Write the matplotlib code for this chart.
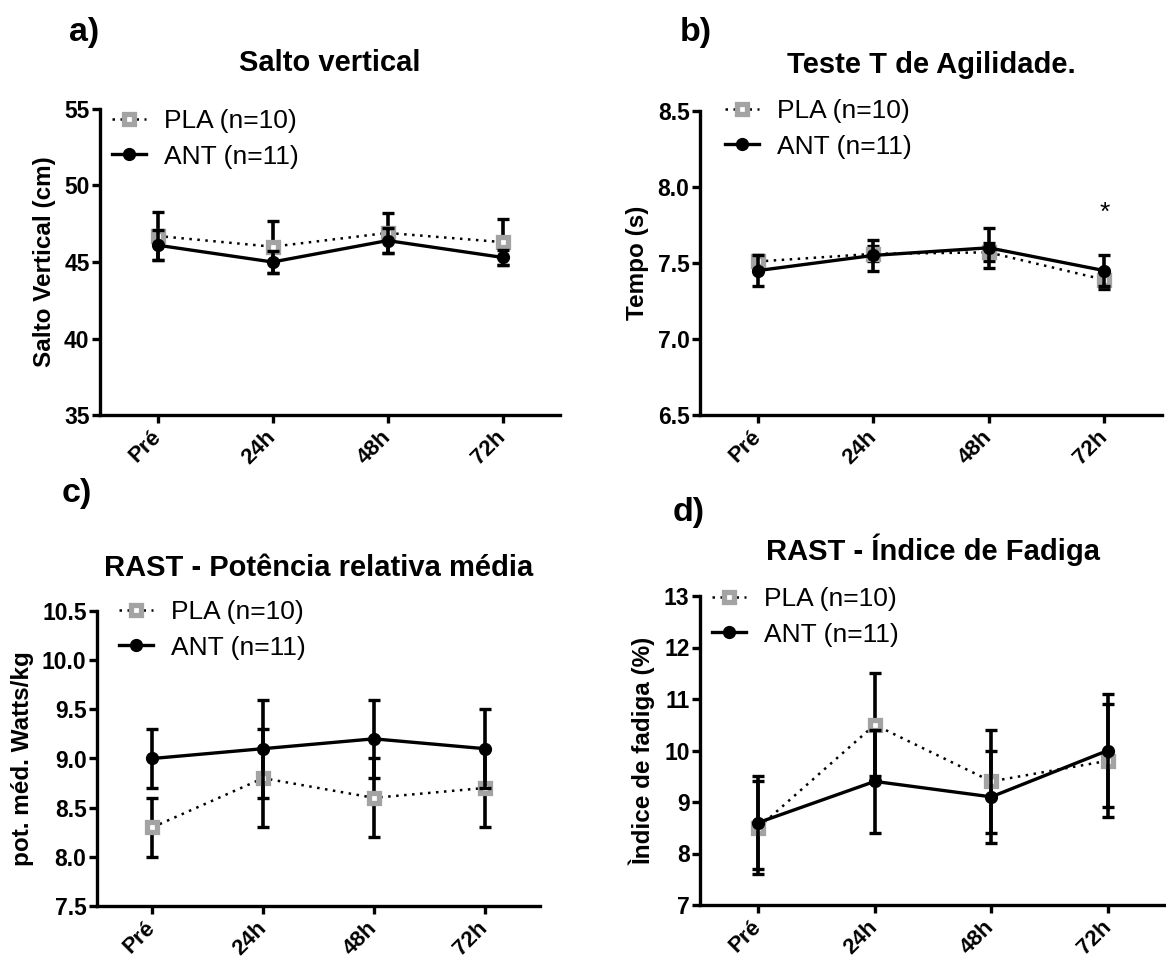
import matplotlib
matplotlib.use("Agg")
import matplotlib.pyplot as plt

plt.rcParams["font.family"] = ["Liberation Sans", "DejaVu Sans"]

times = ["Pré", "24h", "48h", "72h"]

salto_pla = [46.7, 46.0, 46.9, 46.3]
salto_pla_err = [1.6, 1.7, 1.3, 1.5]
salto_ant = [46.1, 45.0, 46.4, 45.3]
salto_ant_err = [1.0, 0.7, 0.8, 0.5]

agil_pla = [7.51, 7.56, 7.57, 7.39]
agil_pla_err = [0.04, 0.05, 0.06, 0.06]
agil_ant = [7.45, 7.55, 7.60, 7.45]
agil_ant_err = [0.10, 0.10, 0.13, 0.10]

pot_pla = [8.3, 8.8, 8.6, 8.7]
pot_pla_err = [0.3, 0.5, 0.4, 0.4]
pot_ant = [9.0, 9.1, 9.2, 9.1]
pot_ant_err = [0.3, 0.5, 0.4, 0.4]

fad_pla = [8.5, 10.5, 9.4, 9.8]
fad_pla_err = [0.9, 1.0, 1.0, 1.1]
fad_ant = [8.6, 9.4, 9.1, 10.0]
fad_ant_err = [0.9, 1.0, 0.9, 1.1]

W, H = 1166, 963
fig = plt.figure(figsize=(W / 100, H / 100), dpi=100)


def px_axes(left, top, right, bottom):
    return fig.add_axes([left / W, 1 - bottom / H, (right - left) / W, (bottom - top) / H])


gray = "#a3a3a3"
lw = 2.4


def panel(ax, pla, pla_err, ant, ant_err, ylim, yticks, yfmt, ylabel,
          title, title_y, leg_x, leg_y, xmax=3.5):
    x = list(range(len(times)))
    ax.errorbar(x, pla, yerr=pla_err, fmt="none", ecolor="black",
                elinewidth=2.6, capsize=4.3, capthick=2.4, zorder=2)
    ax.plot(x, pla, linestyle=(0, (1, 2.2)), color="black", lw=1.8,
            marker="s", markersize=7.5, markerfacecolor="white",
            markeredgecolor=gray, markeredgewidth=3.8, label="PLA (n=10)", zorder=3)
    ax.errorbar(x, ant, yerr=ant_err, fmt="none", ecolor="black",
                elinewidth=2.6, capsize=4.3, capthick=2.4, zorder=4)
    ax.plot(x, ant, linestyle="-", color="black", lw=lw,
            marker="o", markersize=8.5, markerfacecolor="black",
            markeredgecolor="black", label="ANT (n=11)", zorder=5)
    ax.set_xlim(-0.5, xmax)
    ax.set_ylim(*ylim)
    ax.set_yticks(yticks)
    ax.set_yticklabels([yfmt.format(v) for v in yticks], fontweight="bold", fontsize=16.5)
    ax.set_xticks(x)
    ax.set_xticklabels(times, rotation=45, ha="right", va="center",
                       rotation_mode="anchor", fontweight="bold", fontsize=16)
    ax.set_ylabel(ylabel, fontweight="bold", fontsize=17.5, labelpad=6)
    for s in ["top", "right"]:
        ax.spines[s].set_visible(False)
    for s in ["left", "bottom"]:
        ax.spines[s].set_linewidth(lw)
    ax.tick_params(axis="both", width=lw, length=5.5, direction="out", pad=2)
    ax.tick_params(axis="x", pad=8)
    ax.spines["left"].set_zorder(6)
    # legend: leg_x = left of handle, leg_y = centre of first row (pixels)
    ax.legend(loc="upper left", bbox_to_anchor=(leg_x / W, 1 - (leg_y - 11) / H),
              bbox_transform=fig.transFigure, frameon=False,
              fontsize=19, handlelength=1.3, handletextpad=0.68,
              labelspacing=0.44, borderaxespad=0, borderpad=0)
    pos = ax.get_position()
    fig.text((pos.x0 + pos.x1) / 2, 1 - title_y / H, title,
             fontweight="bold", fontsize=21, ha="center", va="center")


ax_a = px_axes(100, 109, 560, 415)
panel(ax_a, salto_pla, salto_pla_err, salto_ant, salto_ant_err,
      (35, 55), [35, 40, 45, 50, 55], "{:.0f}", "Salto Vertical (cm)",
      "Salto vertical", 63, 112, 120)

ax_b = px_axes(700, 111, 1162, 415)
panel(ax_b, agil_pla, agil_pla_err, agil_ant, agil_ant_err,
      (6.5, 8.5), [6.5, 7.0, 7.5, 8.0, 8.5], "{:.1f}", "Tempo (s)",
      "Teste T de Agilidade.", 65, 725, 110)
ax_b.text(3, 7.83, "*", ha="center", va="center", fontsize=19)

ax_c = px_axes(97, 611, 540, 906)
panel(ax_c, pot_pla, pot_pla_err, pot_ant, pot_ant_err,
      (7.5, 10.5), [7.5, 8.0, 8.5, 9.0, 9.5, 10.0, 10.5], "{:.1f}", "pot. méd. Watts/kg",
      "RAST - Potência relativa média", 568, 119, 611)

ax_d = px_axes(700, 596, 1166, 905)
panel(ax_d, fad_pla, fad_pla_err, fad_ant, fad_ant_err,
      (7, 13), [7, 8, 9, 10, 11, 12, 13], "{:.0f}", "Ìndice de fadiga (%)",
      "RAST - Índice de Fadiga", 550, 712, 598)

for lab, xp, yp in [("a)", 69, 32), ("b)", 680, 32), ("c)", 62, 493), ("d)", 673, 512)]:
    fig.text(xp / W, 1 - yp / H, lab, fontweight="bold", fontsize=24.5, ha="left", va="center")

fig.savefig("out.png", dpi=100)
